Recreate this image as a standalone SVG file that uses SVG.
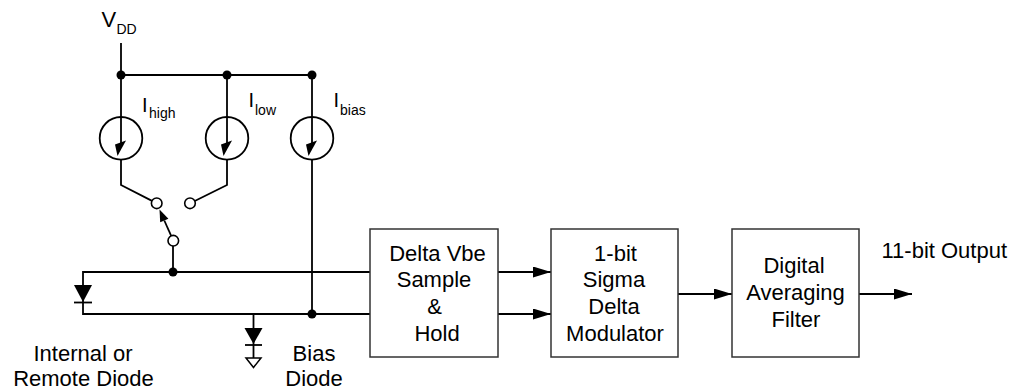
<svg xmlns="http://www.w3.org/2000/svg" width="1013" height="392" viewBox="0 0 1013 392">
<style>
.w{stroke:#000;stroke-width:1.8;fill:none}
.box{stroke:#333;stroke-width:1.5;fill:#fff}
.t{font-family:"Liberation Sans",Arial,sans-serif;font-size:22px;fill:#000}
.s{font-family:"Liberation Sans",Arial,sans-serif;font-size:14px;fill:#000}
.i{font-family:"Liberation Sans",Arial,sans-serif;font-size:20px;fill:#000}
.c{text-anchor:middle}
.dot{fill:#000}
.oc{fill:#fff;stroke:#000;stroke-width:1.6}
.src{fill:#fff;stroke:#000;stroke-width:1.8}
.ah{fill:#000}
</style>
<defs>
<g id="isrc">
<circle class="src" cx="0" cy="138.3" r="21.3"/>
<line class="w" x1="0" y1="117" x2="0" y2="147"/>
<polygon class="ah" points="-6,144.5 5,140.5 -3.5,156"/>
</g>
<marker id="arr" markerWidth="18" markerHeight="11" refX="18" refY="5.5" orient="auto" markerUnits="userSpaceOnUse">
<polygon points="0,0 18,5.5 0,11" fill="#000"/>
</marker>
</defs>
<rect width="1013" height="392" fill="#fff"/>

<g id="connectors">
<line class="w" x1="121" y1="43" x2="121" y2="117"/>
<line class="w" x1="121" y1="75" x2="312" y2="75"/>
<line class="w" x1="227" y1="75" x2="227" y2="117"/>
<line class="w" x1="312" y1="75" x2="312" y2="117"/>
<polyline class="w" points="121,159.5 121,185 152,200.9"/>
<polyline class="w" points="227,159.5 227,185 194.75,200.95"/>
<line class="w" x1="312" y1="159.5" x2="312" y2="314"/>
<line class="w" x1="171.2" y1="235.8" x2="164.3" y2="220.5"/>
<polygon class="ah" points="159.5,209.5 168.4,218.7 160.2,222.3"/>
<line class="w" x1="173" y1="246" x2="173" y2="272"/>
<polyline class="w" points="370,272 83,272 83,314 370,314"/>
<line class="w" x1="253.5" y1="314" x2="253.5" y2="358"/>
<line class="w" x1="498" y1="272" x2="551" y2="272" marker-end="url(#arr)"/>
<line class="w" x1="498" y1="314" x2="551" y2="314" marker-end="url(#arr)"/>
<line class="w" x1="678" y1="294" x2="732" y2="294" marker-end="url(#arr)"/>
<line class="w" x1="859" y1="294" x2="912" y2="294" marker-end="url(#arr)"/>
</g>

<g id="vdd">
<text class="t" x="101.5" y="26.5">V</text>
<text class="s" x="116.5" y="34">DD</text>
<circle class="dot" cx="121" cy="75" r="4.5"/>
<circle class="dot" cx="227" cy="75" r="4.5"/>
<circle class="dot" cx="312" cy="75" r="4.5"/>
</g>

<g id="ihigh">
<use href="#isrc" x="121"/>
<text class="i" x="142" y="112">I</text>
<text class="s" x="149" y="117.5">high</text>
</g>

<g id="ilow">
<use href="#isrc" x="227"/>
<text class="i" x="248.5" y="107">I</text>
<text class="s" x="255" y="114.5">low</text>
</g>

<g id="ibias">
<use href="#isrc" x="312"/>
<text class="i" x="333.5" y="107">I</text>
<text class="s" x="340" y="114.5">bias</text>
</g>

<g id="switch">
<circle class="oc" cx="156.7" cy="203.3" r="5.3"/>
<circle class="oc" cx="190" cy="203.3" r="5.3"/>
<circle class="oc" cx="173.3" cy="240.7" r="5.3"/>
<circle class="dot" cx="173" cy="272" r="4.5"/>
<circle class="dot" cx="312" cy="314" r="4.5"/>
</g>

<g id="remote-diode">
<polygon points="74,285 92,285 83,302" fill="#000"/>
<line class="w" x1="74" y1="302.5" x2="92" y2="302.5"/>
<text class="t c" x="83" y="360.5">Internal or</text>
<text class="t c" x="83.5" y="385.5">Remote Diode</text>
</g>

<g id="bias-diode">
<polygon points="244.5,328 262.5,328 253.5,344" fill="#000"/>
<line class="w" x1="245" y1="345" x2="262" y2="345"/>
<polygon points="246,358 261,358 253.5,367.5" fill="#fff" stroke="#000" stroke-width="1.5"/>
<text class="t c" x="314" y="360.5">Bias</text>
<text class="t c" x="314" y="385.5">Diode</text>
</g>

<g id="sample-hold">
<rect class="box" x="370" y="229" width="128" height="128"/>
<text class="t c" x="437.5" y="260.5">Delta Vbe</text>
<text class="t c" x="434" y="287">Sample</text>
<text class="t c" x="434.5" y="313.5">&amp;</text>
<text class="t c" x="437" y="340.5">Hold</text>
</g>

<g id="modulator">
<rect class="box" x="551" y="229" width="127" height="128"/>
<text class="t c" x="615.5" y="260.5">1-bit</text>
<text class="t c" x="614" y="287">Sigma</text>
<text class="t c" x="614" y="313.5">Delta</text>
<text class="t c" x="615" y="340.5">Modulator</text>
</g>

<g id="filter">
<rect class="box" x="732" y="229" width="127" height="128"/>
<text class="t c" x="794" y="273">Digital</text>
<text class="t c" x="795.5" y="300">Averaging</text>
<text class="t c" x="796" y="327">Filter</text>
</g>

<g id="output">
<text class="t" x="881.5" y="258">11-bit Output</text>
</g>
</svg>
